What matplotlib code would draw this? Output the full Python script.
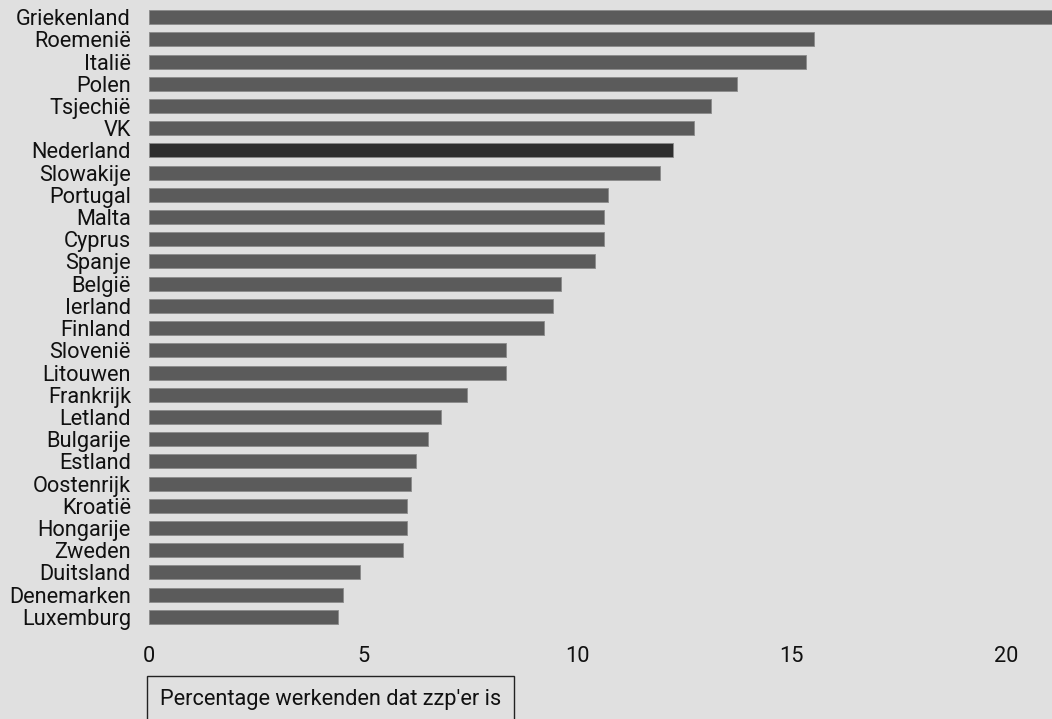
import matplotlib
matplotlib.use("Agg")
import matplotlib.pyplot as plt

countries = ["Griekenland", "Roemenië", "Italië", "Polen", "Tsjechië", "VK", "Nederland",
             "Slowakije", "Portugal", "Malta", "Cyprus", "Spanje", "België", "Ierland",
             "Finland", "Slovenië", "Litouwen", "Frankrijk", "Letland", "Bulgarije",
             "Estland", "Oostenrijk", "Kroatië", "Hongarije", "Zweden", "Duitsland",
             "Denemarken", "Luxemburg"]
values = [21.5, 15.53, 15.33, 13.72, 13.12, 12.72, 12.22, 11.92, 10.72, 10.62, 10.62,
          10.42, 9.62, 9.42, 9.22, 8.32, 8.32, 7.42, 6.82, 6.52, 6.22, 6.12, 6.02, 6.02,
          5.92, 4.92, 4.52, 4.42]
highlight = "Nederland"
xticks = [0, 5, 10, 15, 20]
xlabel = "Percentage werkenden dat zzp'er is"

plt.rcParams['font.family'] = ['Roboto', 'DejaVu Sans']

bg = "#e0e0e0"
fig = plt.figure(figsize=(10.52, 7.19), dpi=100, facecolor=bg)
ax = fig.add_axes([149/1052, 1 - 628/719, 1 - 149/1052, (628 - 6)/719])
ax.set_facecolor(bg)

colors = ["#2e2e2e" if c == highlight else "#5b5b5b" for c in countries]
ypos = list(range(len(countries)))
ax.barh(ypos, values, height=0.63, color=colors, edgecolor="#8a8a8a", linewidth=0.6)
ax.set_ylim(len(countries) - 0.5, -0.5)
ax.set_xlim(0, (1052 - 149) / ((1006 - 149) / 20))
ax.set_yticks(ypos)
ax.set_yticklabels(countries, fontsize=15.7, color="#111111")
ax.set_xticks(xticks)
ax.set_xticklabels([str(t) for t in xticks], fontsize=15.7, color="#111111")
ax.tick_params(axis="y", length=0, pad=13)
ax.tick_params(axis="x", length=0, pad=13)
for s in ax.spines.values():
    s.set_visible(False)

fig.text(160/1052, 1 - 700/719, xlabel, fontsize=15.7, color="#111111", va="center", ha="left",
         bbox=dict(boxstyle="square,pad=0.6", facecolor=bg, edgecolor="#222222", linewidth=1.0))

fig.savefig("out.png", dpi=100, facecolor=bg)
